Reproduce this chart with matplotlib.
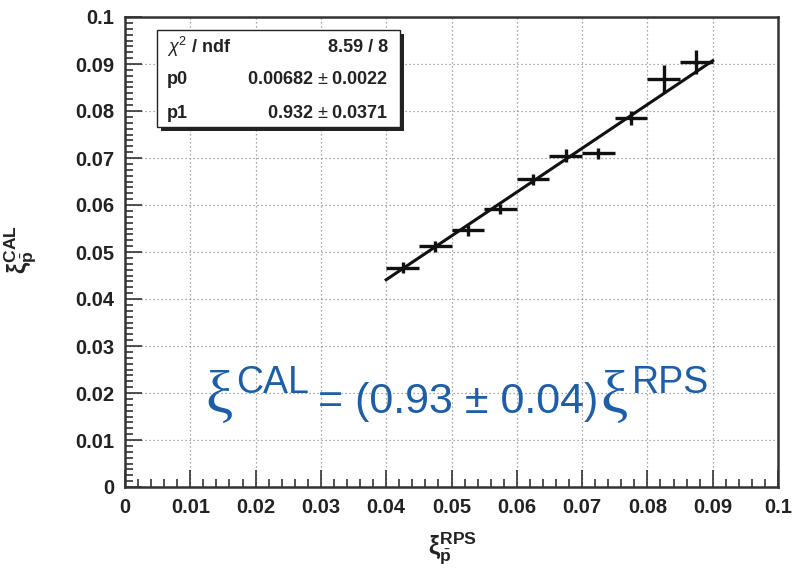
import numpy as np
import matplotlib.pyplot as plt
from matplotlib.ticker import MultipleLocator, FuncFormatter
from matplotlib.patches import Rectangle

plt.rcParams['font.family'] = ['Liberation Sans', 'DejaVu Sans']
plt.rcParams['mathtext.fontset'] = 'custom'
plt.rcParams['mathtext.rm'] = 'Liberation Sans'
plt.rcParams['mathtext.bf'] = 'Liberation Sans:bold'
plt.rcParams['mathtext.it'] = 'Liberation Sans:italic'

# xi measured by the roman pots vs xi from the calorimeter, 10 bins
xi_rps = [0.0425, 0.0475, 0.0525, 0.0575, 0.0625, 0.0675, 0.0725, 0.0775, 0.0825, 0.0875]
xi_cal = [0.0467, 0.0512, 0.0546, 0.0591, 0.0655, 0.0705, 0.0710, 0.0785, 0.0868, 0.0904]
xi_rps_err = [0.0025] * 10
xi_cal_err = [0.0012, 0.0011, 0.0011, 0.0011, 0.0012, 0.0014, 0.0012, 0.0015, 0.0030, 0.0025]

# straight line fit p0 + p1*x
p0, p1 = 0.00682, 0.932
fit_range = [0.04, 0.09]

stats_rows = [("$\\chi^{2}$ / ndf", "8.59 / 8"),
              ("p0", "0.00682 $\\pm$ 0.0022"),
              ("p1", "0.932 $\\pm$ 0.0371")]

W, H = 793, 569
fig = plt.figure(figsize=(W / 100, H / 100), dpi=100)


def fx(px):
    return px / W


def fy(py):
    return 1 - py / H


ax = fig.add_axes([fx(125), fy(487), (778 - 125) / W, (487 - 17) / H])
ax.set_xlim(0, 0.1)
ax.set_ylim(0, 0.1)

ax.errorbar(xi_rps, xi_cal, xerr=xi_rps_err, yerr=xi_cal_err, fmt='none',
            ecolor='#111111', elinewidth=2.4, capsize=0, zorder=3)

fit_x = np.array(fit_range)
ax.plot(fit_x, p0 + p1 * fit_x, color='#111111', lw=2.2, zorder=4)

# axes styling
ax.xaxis.set_major_locator(MultipleLocator(0.01))
ax.xaxis.set_minor_locator(MultipleLocator(0.002))
ax.yaxis.set_major_locator(MultipleLocator(0.01))
ax.yaxis.set_minor_locator(MultipleLocator(0.00125))
fmt = FuncFormatter(lambda v, pos: f"{v:g}")
ax.xaxis.set_major_formatter(fmt)
ax.yaxis.set_major_formatter(fmt)
ax.tick_params(which='both', direction='in', colors='#222222', width=1.1)
ax.tick_params(which='major', length=12, labelsize=14.5, pad=8)
ax.tick_params(which='minor', length=6)
for lab in ax.get_xticklabels() + ax.get_yticklabels():
    lab.set_fontweight('bold')
ax.grid(True, which='major', color='#8c8c8c', lw=0.9, linestyle=(0, (1, 2.2)))
for sp in ax.spines.values():
    sp.set_linewidth(1.8)
    sp.set_color('#333333')

# axis titles
fig.text(fx(452), fy(548), r"$\mathbf{\xi}_{\bar{\mathbf{p}}}^{\mathbf{RPS}}$",
         fontsize=18, ha='center', va='center', color='#222222')
fig.text(fx(20), fy(250), r"$\mathbf{\xi}_{\bar{\mathbf{p}}}^{\mathbf{CAL}}$",
         fontsize=18, ha='center', va='center', rotation=90, color='#222222')

# fit statistics box
fig.add_artist(Rectangle((fx(161), fy(131)), (400 - 157) / W, (127 - 30) / H,
                         transform=fig.transFigure, facecolor='#222222',
                         edgecolor='none', zorder=5))
fig.add_artist(Rectangle((fx(157), fy(127)), (400 - 157) / W, (127 - 30) / H,
                         transform=fig.transFigure, facecolor='white',
                         edgecolor='#222222', lw=1.0, zorder=6))
for i, (name, val) in enumerate(stats_rows):
    yrow = fy(47 + i * 33)
    fig.text(fx(167), yrow, name, fontsize=13, fontweight='bold',
             ha='left', va='center', color='#222222', zorder=7)
    fig.text(fx(388), yrow, val, fontsize=13, fontweight='bold',
             ha='right', va='center', color='#222222', zorder=7)

# relation written on the plot
blue = '#1d5ea8'
fig.text(fx(205), fy(413), "ξ", fontsize=44, family='Liberation Serif', color=blue,
         va='baseline', zorder=7)
fig.text(fx(236), fy(393), "CAL", fontsize=27, color=blue, va='baseline', zorder=7)
fig.text(fx(318), fy(413), "= (0.93 ± 0.04)", fontsize=31, color=blue, va='baseline', zorder=7)
fig.text(fx(600), fy(413), "ξ", fontsize=44, family='Liberation Serif', color=blue,
         va='baseline', zorder=7)
fig.text(fx(632), fy(393), "RPS", fontsize=27, color=blue, va='baseline', zorder=7)

fig.savefig("out.png", dpi=100)
